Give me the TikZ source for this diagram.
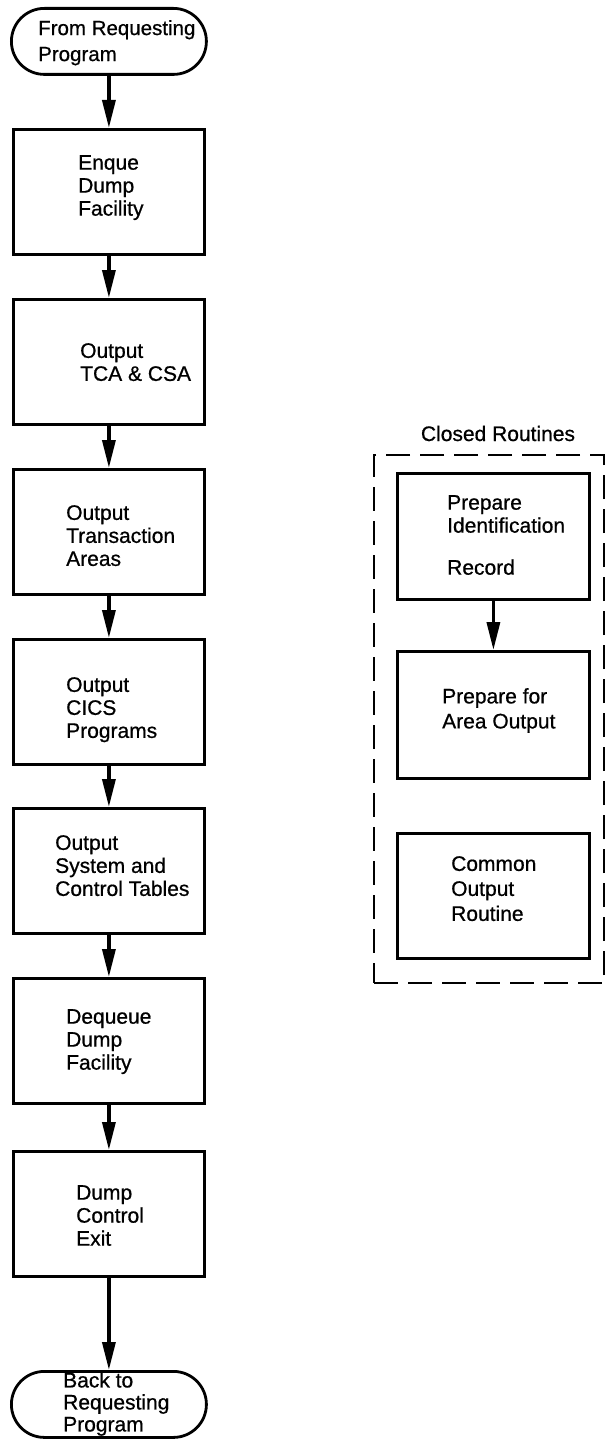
\documentclass[tikz,border=0pt]{standalone}
\usepackage{fontspec}
\setmainfont{Liberation Sans}[FakeBold=0.7]
\usetikzlibrary{arrows.meta}
\begin{document}
\begin{tikzpicture}[x=1pt,y=-1pt,
  box/.style={draw, line width=2.8pt, minimum width=191pt, minimum height=125pt, inner sep=0pt, anchor=north west},
  rbox/.style={box, minimum width=192pt},
  term/.style={draw, line width=2.8pt, rounded corners=33pt, minimum width=195pt, minimum height=66pt, inner sep=0pt, anchor=north west},
  lbl/.style={anchor=north west, inner sep=0pt, align=left, font=\fontsize{21}{23}\selectfont},
  arr/.style={line width=3.5pt, -{Triangle[length=28pt,width=13pt]}},
  grp/.style={draw, line width=2.2pt, dash pattern=on 24pt off 10pt, minimum width=230pt, minimum height=528pt, inner sep=0pt, anchor=north west}
]
\fill[white] (0,0) rectangle (607,1439);
\useasboundingbox (0,0) rectangle (607,1439);

% main column
\node[term] (start) at (10,7) {};
\node[box] (b1) at (12,128) {};
\node[box] (b2) at (12,298) {};
\node[box] (b3) at (12,468) {};
\node[box] (b4) at (12,638) {};
\node[box] (b5) at (12,807) {};
\node[box] (b6) at (12,977) {};
\node[box] (b7) at (12,1150) {};
\node[term, minimum height=66pt] (stop) at (10,1370) {};

\node[lbl, font=\fontsize{20.5}{26}\selectfont] (t0) at (38,20) {From Requesting\\Program};
\node[lbl] (t1) at (78,155) {Enque\\Dump\\Facility};
\node[lbl] (t2) at (80,343) {Output\\TCA \& CSA};
\node[lbl] (t3) at (66,505) {Output\\Transaction\\Areas};
\node[lbl] (t4) at (66,677) {Output\\CICS\\Programs};
\node[lbl] (t5) at (55,835) {Output\\System and\\Control Tables};
\node[lbl] (t6) at (66,1009) {Dequeue\\Dump\\Facility};
\node[lbl] (t7) at (76,1185) {Dump\\Control\\Exit};
\node[lbl, font=\fontsize{21}{22}\selectfont] (t8) at (63,1372) {Back to\\Requesting\\Program};

\draw[arr] (start.south) -- (b1.north);
\draw[arr] (b1.south) -- (b2.north);
\draw[arr] (b2.south) -- (b3.north);
\draw[arr] (b3.south) -- (b4.north);
\draw[arr] (b4.south) -- (b5.north);
\draw[arr] (b5.south) -- (b6.north);
\draw[arr] (b6.south) -- (b7.north);
\draw[arr] (b7.south) -- (stop.north);

% closed routines
\node[grp] (grp) at (373,454) {};
\node[anchor=base, inner sep=0pt, font=\fontsize{21}{23}\selectfont] (grplbl) at (498,441) {Closed Routines};
\node[rbox, minimum height=126pt] (ra) at (396,472) {};
\node[rbox, minimum height=127pt] (rb) at (396,650) {};
\node[rbox] (rc) at (396,832) {};
\node[lbl] (ta) at (447,495) {Prepare\\Identification\\[19pt]Record};
\node[lbl, font=\fontsize{21}{25}\selectfont] (tb) at (442,688) {Prepare for\\Area Output};
\node[lbl, font=\fontsize{21}{25}\selectfont] (tc) at (451,856) {Common\\Output\\Routine};
\draw[arr] (ra.south) -- (rb.north);
\end{tikzpicture}
\end{document}
